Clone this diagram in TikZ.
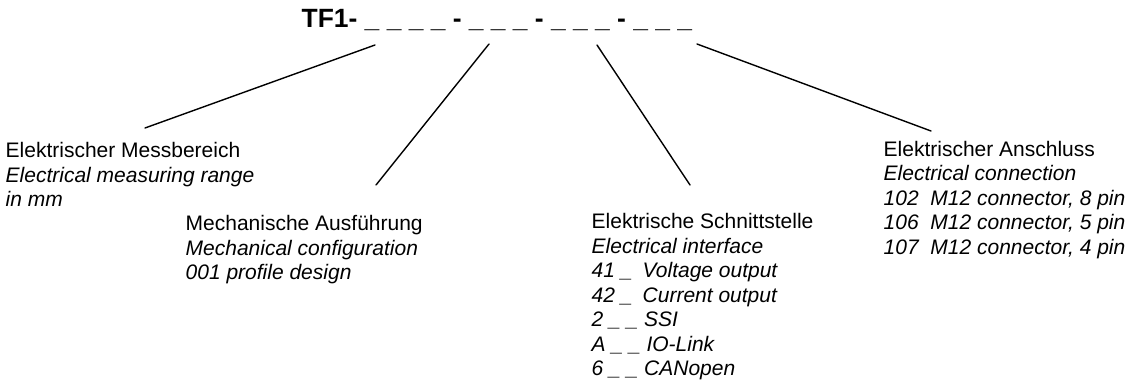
\documentclass[tikz,border=0pt]{standalone}
\usepackage{fontspec}
\setmainfont{Liberation Sans}
\begin{document}
\begin{tikzpicture}[x=1pt,y=-1pt,
  lbl/.style={anchor=north west,inner sep=0pt,align=left,font=\fontsize{21}{24.5}\selectfont},
  ttl/.style={anchor=base west,inner sep=0pt,font=\fontsize{26.4}{30}\selectfont\bfseries},
  conn/.style={line width=1.4pt,line cap=round}]
\useasboundingbox (0,0) rectangle (1143,390);
\node[ttl] (title) at (301.5,28) {TF1- \_ \_ \_ \_ - \_ \_ \_ - \_ \_ \_ - \_ \_ \_};

\node[lbl] (range) at (5.5,142.5) {Elektrischer Messbereich\\
  \textit{Electrical measuring range}\\
  \textit{in mm}};
\node[lbl] (mech) at (185.5,215.5) {Mechanische Ausführung\\
  \textit{Mechanical configuration}\\
  \textit{001 profile design}};
\node[lbl] (iface) at (591.5,213.5) {Elektrische Schnittstelle\\
  \textit{Electrical interface}\\
  \textit{\makebox[51pt][l]{41 \_}Voltage output}\\
  \textit{\makebox[51pt][l]{42 \_}Current output}\\
  \textit{2 \_ \_ SSI}\\
  \textit{A \_ \_ IO-Link}\\
  \textit{6 \_ \_ CANopen}};
\node[lbl] (conn) at (883.5,141) {Elektrischer Anschluss\\
  \textit{Electrical connection}\\
  \textit{102 \ M12 connector, 8 pin}\\
  \textit{106 \ M12 connector, 5 pin}\\
  \textit{107 \ M12 connector, 4 pin}};

\coordinate (t1) at (375,45);  \coordinate (e1) at (145,128);
\coordinate (t2) at (489,44);  \coordinate (e2) at (376,185);
\coordinate (t3) at (597,45);  \coordinate (e3) at (690,185);
\coordinate (t4) at (697,44);  \coordinate (e4) at (931,131);

\draw[conn] (t1) -- (e1);
\draw[conn] (t2) -- (e2);
\draw[conn] (t3) -- (e3);
\draw[conn] (t4) -- (e4);
\end{tikzpicture}
\end{document}
